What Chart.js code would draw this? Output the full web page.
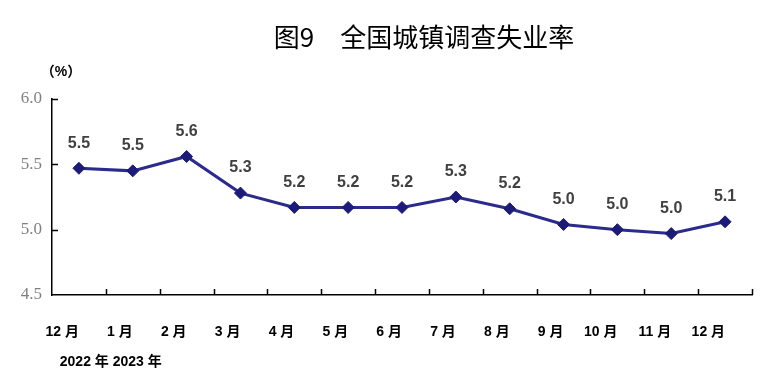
<!DOCTYPE html>
<html>
<head>
<meta charset="utf-8">
<script src="https://cdn.jsdelivr.net/npm/chart.js@4/dist/chart.umd.min.js"></script>
<style>
    html, body { margin: 0; padding: 0; background: #fff; }
    #wrap { width: 764px; height: 390px; }
</style>
</head>
<body>
<div id="wrap"><canvas id="rateChart" width="764" height="390"></canvas></div>
<script>
// data
const months = ['12 月', '1 月', '2 月', '3 月', '4 月', '5 月', '6 月', '7 月', '8 月', '9 月', '10 月', '11 月', '12 月'];
const rates = [5.47, 5.45, 5.56, 5.28, 5.17, 5.17, 5.17, 5.25, 5.16, 5.04, 5.00, 4.97, 5.06];
const rateLabels = ['5.5', '5.5', '5.6', '5.3', '5.2', '5.2', '5.2', '5.3', '5.2', '5.0', '5.0', '5.0', '5.1'];
const yMin = 4.5;
const yMax = 6.0;
const yStep = 0.5;
const titleText = '图9　全国城镇调查失业率';
const unitText = '（%）';
const yearText = '  2022 年 2023 年';

const cjkSans = "'Liberation Sans', 'Noto Sans CJK SC', sans-serif";

// title, unit and the value labels above each point
const textLayer = {
    id: 'textLayer',
    afterDatasetsDraw(chart) {
        const { ctx, chartArea } = chart;
        ctx.save();
        ctx.textAlign = 'center';
        ctx.textBaseline = 'middle';

        ctx.fillStyle = '#000';
        ctx.font = "26px 'Noto Sans CJK SC', sans-serif";
        ctx.fillText(titleText, (chartArea.left + chartArea.right) / 2 + 22, 37);

        ctx.font = 'bold 14px ' + cjkSans;
        ctx.fillText(unitText, chartArea.left + 9, chartArea.top - 27);

        ctx.fillStyle = '#404040';
        ctx.font = "bold 16px 'Liberation Sans', Arial, sans-serif";
        const meta = chart.getDatasetMeta(0);
        meta.data.forEach((pt, i) => {
            ctx.fillText(rateLabels[i], pt.x, pt.y - 25);
        });
        ctx.restore();
    }
};

// short tick marks pointing into the plot
const innerTicks = {
    id: 'innerTicks',
    afterDraw(chart) {
        const { ctx, chartArea, scales: { x, y } } = chart;
        ctx.save();
        ctx.strokeStyle = '#000';
        ctx.lineWidth = 1.5;
        ctx.beginPath();
        for (let i = 1; i <= months.length; i++) {
            const px = Math.round(x.getPixelForValue(i - 0.5)) + 0.5;
            ctx.moveTo(px, chartArea.bottom);
            ctx.lineTo(px, chartArea.bottom - 6);
        }
        y.ticks.forEach(t => {
            if (t.value === yMin) return;
            const py = Math.round(y.getPixelForValue(t.value)) + 0.5;
            ctx.moveTo(chartArea.left, py);
            ctx.lineTo(chartArea.left + 6, py);
        });
        ctx.stroke();
        ctx.restore();
    }
};

const ctx = document.getElementById('rateChart').getContext('2d');
new Chart(ctx, {
    type: 'line',
    data: {
        labels: months,
        datasets: [{
            label: '全国城镇调查失业率',
            data: rates,
            borderColor: '#2b2b8c',
            borderWidth: 3,
            pointStyle: 'rectRot',
            pointRadius: 6,
            pointBackgroundColor: '#1c1c78',
            pointBorderColor: '#1c1c78',
            pointBorderWidth: 1,
            tension: 0,
            fill: false
        }]
    },
    options: {
        responsive: false,
        animation: false,
        layout: {
            padding: { top: 99, right: 12, left: 0, bottom: 0 }
        },
        plugins: {
            legend: { display: false },
            tooltip: { enabled: false },
            title: { display: false }
        },
        scales: {
            x: {
                offset: true,
                afterFit: s => { s.height = 95; },
                grid: { display: false, drawTicks: false },
                border: { display: true, color: '#000', width: 1.5 },
                ticks: {
                    align: 'end',
                    padding: 29,
                    color: '#000',
                    maxRotation: 0,
                    autoSkip: false,
                    font: { family: cjkSans, size: 14, weight: 'bold' }
                },
                title: {
                    display: true,
                    text: yearText,
                    align: 'start',
                    color: '#000',
                    padding: { top: 0, bottom: 19 },
                    font: { family: cjkSans, size: 14, weight: 'bold' }
                }
            },
            y: {
                min: yMin,
                max: yMax,
                afterFit: s => { s.width = 52; },
                grid: { display: false, drawTicks: false },
                border: { display: true, color: '#000', width: 1.5 },
                ticks: {
                    stepSize: yStep,
                    padding: 10,
                    color: '#808080',
                    font: { family: "'Liberation Serif', 'Times New Roman', serif", size: 17 },
                    callback: v => v.toFixed(1)
                }
            }
        }
    },
    plugins: [textLayer, innerTicks]
});
</script>
</body>
</html>
